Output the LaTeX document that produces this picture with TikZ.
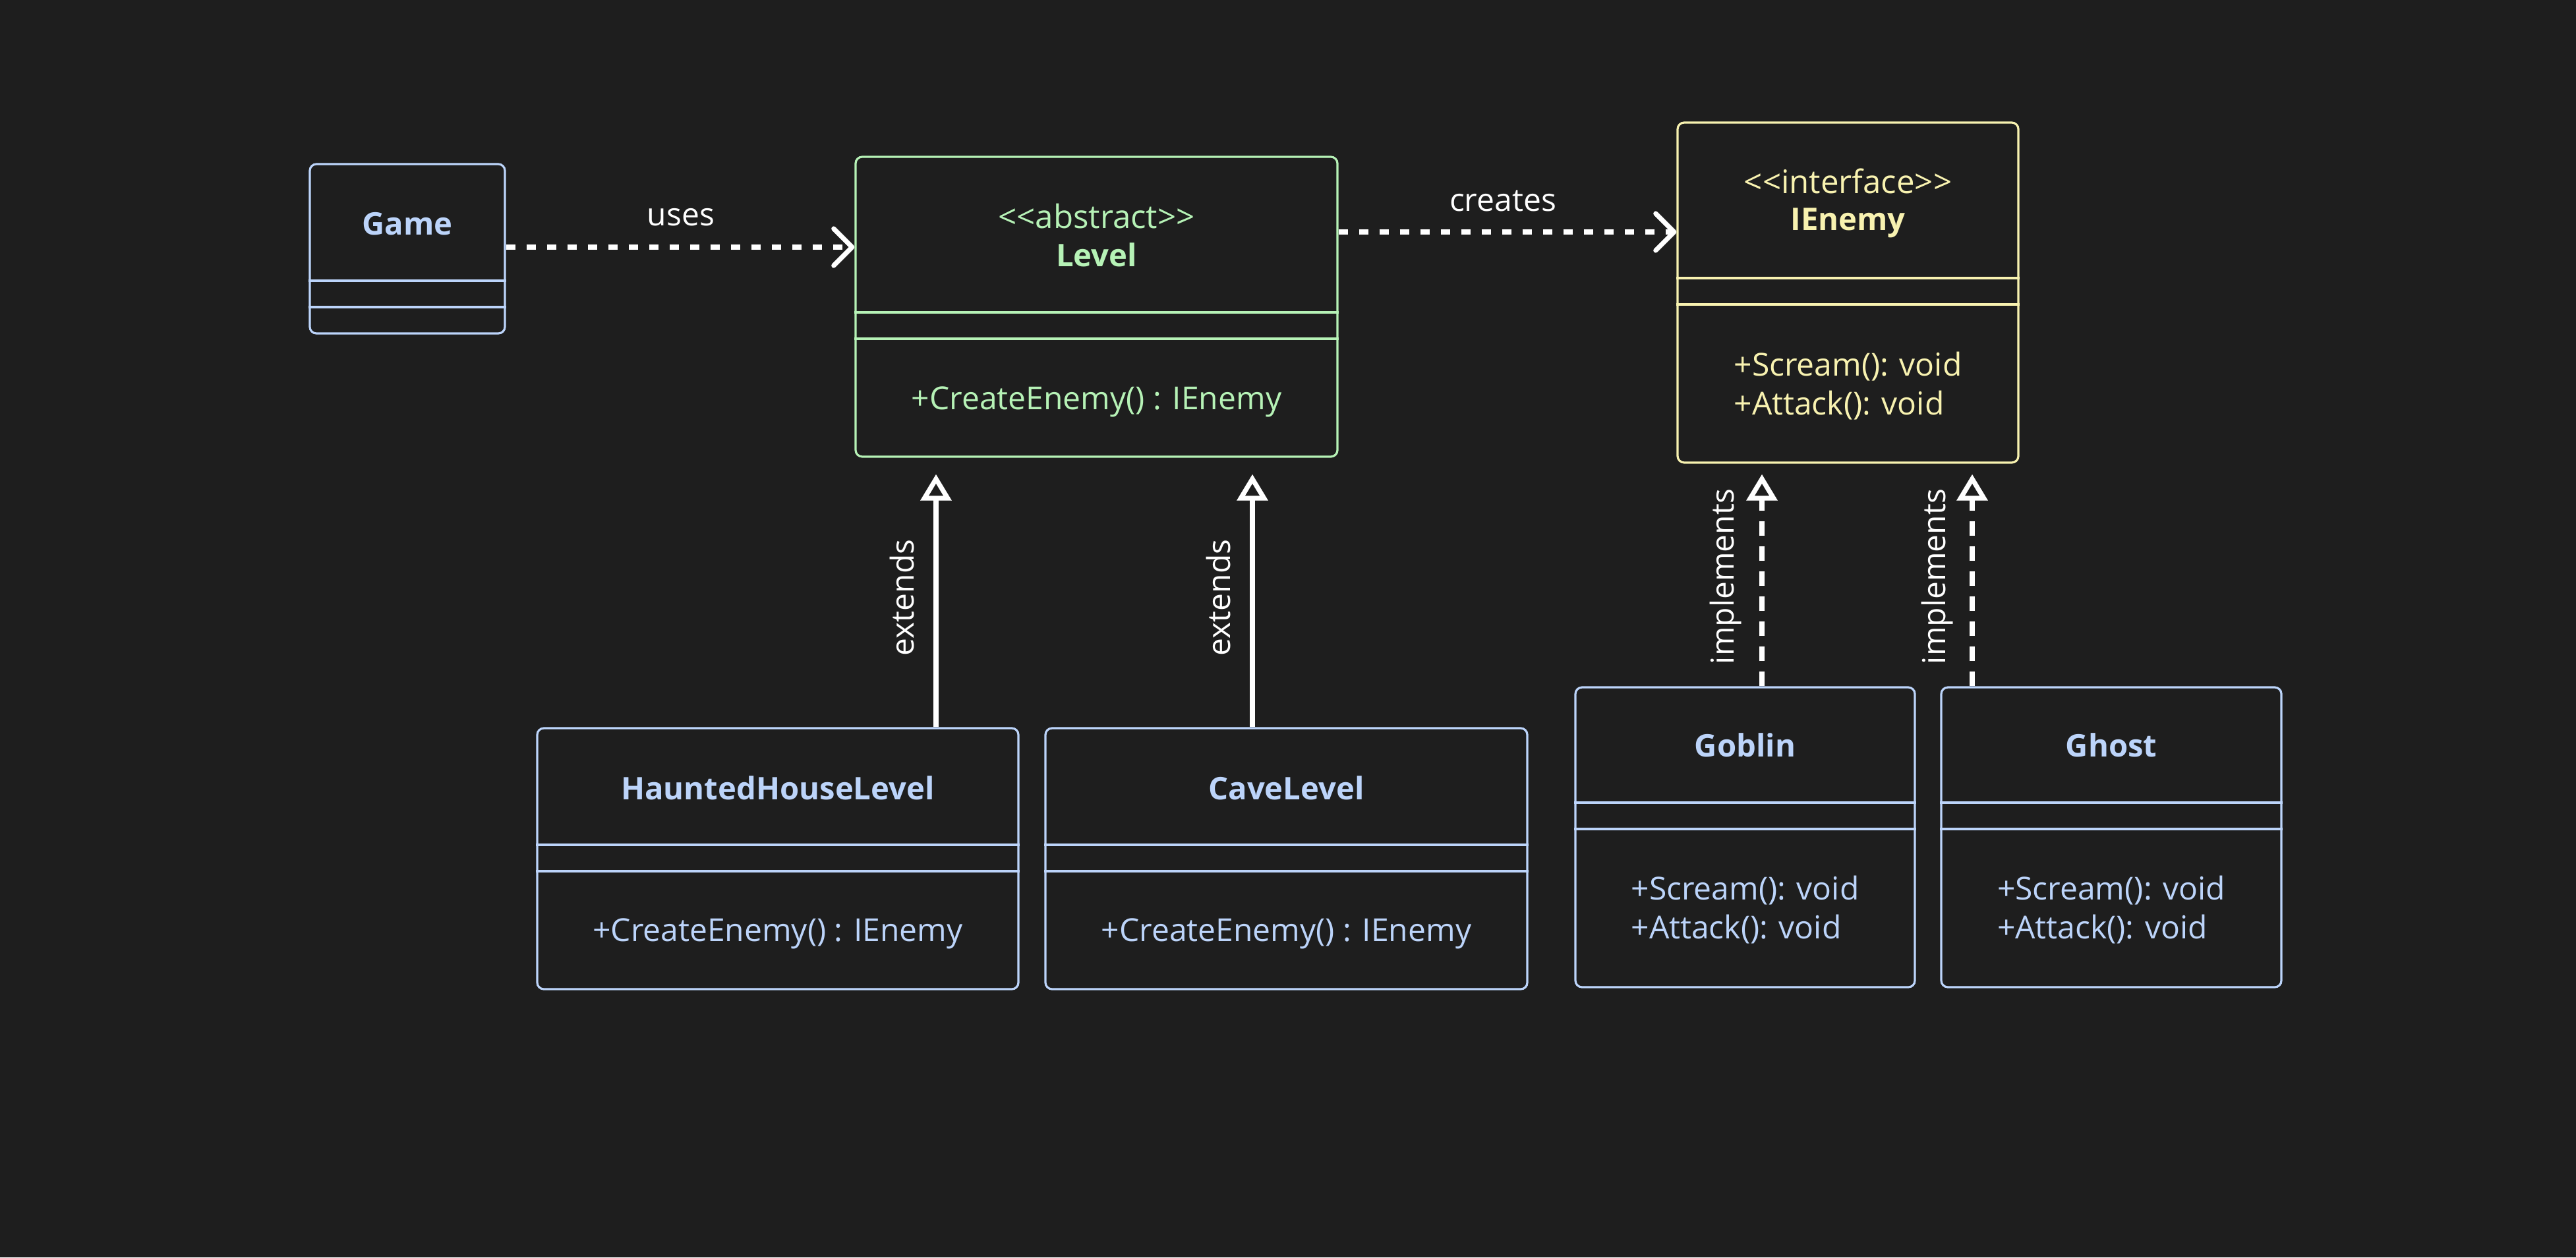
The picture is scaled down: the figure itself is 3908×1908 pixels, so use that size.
\documentclass[tikz,border=0pt]{standalone}
\usepackage{fontspec}
\setmainfont{Open Sans}
\usetikzlibrary{arrows.meta}
\definecolor{bg}{HTML}{1E1E1E}
\definecolor{cblue}{HTML}{BCD4FA}
\definecolor{cgreen}{HTML}{B6F2B6}
\definecolor{cyellow}{HTML}{F8F2B0}
\tikzset{
  classbox/.style={draw=#1, line width=0.8pt, rounded corners=2.5pt, fill=bg, inner sep=0pt},
  divider/.style={draw=#1, line width=0.8pt},
  nametext/.style={text=#1, font=\bfseries\fontsize{11.8}{14}\selectfont, inner sep=0pt},
  plaintext/.style={text=#1, font=\fontsize{12}{14.75}\selectfont, inner sep=0pt},
  sttext/.style={text=#1, font=\fontsize{12.3}{14.75}\selectfont, inner sep=0pt},
  methods/.style={text=#1, font=\fontsize{12}{14.75}\selectfont, inner sep=0pt, align=left},
  lbl/.style={text=white, font=\fontsize{12}{13}\selectfont, inner sep=0pt},
  depend/.style={draw=white, line width=1.8pt, dash pattern=on 3.5pt off 4.25pt,
    -{Straight Barb[length=7pt,width=14pt,round]}},
  extendsarrow/.style={draw=white, line width=1.8pt, -{Triangle[open,length=10pt,width=11.5pt]}},
  implarrow/.style={draw=white, line width=1.8pt, dash pattern=on 5.5pt off 4pt,
    -{Triangle[open,length=10pt,width=11.5pt]}},
}
\begin{document}
\begin{tikzpicture}[x=0.25pt,y=-0.25pt]
\path[fill=bg] (0,0) rectangle (3908,1908);
\useasboundingbox (0,0) rectangle (3908,1908);

% Game
\node[classbox=cblue, minimum width=74pt, minimum height=64.25pt] (game) at (618,377.5) {};
\draw[divider=cblue] (game.west |- 0,426) -- (game.east |- 0,426);
\draw[divider=cblue] (game.west |- 0,466) -- (game.east |- 0,466);
\node[nametext=cblue] (gamename) at (618,340) {Game};

% Level
\node[classbox=cgreen, minimum width=182.75pt, minimum height=113.75pt] (level) at (1663.5,465.5) {};
\draw[divider=cgreen] (level.west |- 0,474) -- (level.east |- 0,474);
\draw[divider=cgreen] (level.west |- 0,514) -- (level.east |- 0,514);
\node[sttext=cgreen] (levelst) at (1663.5,328) {<{}<abstract>{}>};
\node[nametext=cgreen] (levelname) at (1663.5,387) {Level};
\node[plaintext=cgreen] (levelm) at (1663.5,610) {+CreateEnemy() : IEnemy};

% IEnemy
\node[classbox=cyellow, minimum width=129.25pt, minimum height=129pt] (ienemy) at (2803.5,444) {};
\draw[divider=cyellow] (ienemy.west |- 0,422) -- (ienemy.east |- 0,422);
\draw[divider=cyellow] (ienemy.west |- 0,462) -- (ienemy.east |- 0,462);
\node[sttext=cyellow] (ienemyst) at (2803.5,275) {<{}<interface>{}>};
\node[nametext=cyellow] (ienemyname) at (2803.5,338) {IEnemy};
\node[methods=cyellow] (ienemym) at (2803.5,585.5) {+Scream(): void\\+Attack(): void};

% HauntedHouseLevel
\node[classbox=cblue, minimum width=182.5pt, minimum height=99pt] (hhl) at (1180,1303) {};
\draw[divider=cblue] (hhl.west |- 0,1282) -- (hhl.east |- 0,1282);
\draw[divider=cblue] (hhl.west |- 0,1322) -- (hhl.east |- 0,1322);
\node[nametext=cblue] (hhlname) at (1180,1196) {HauntedHouseLevel};
\node[plaintext=cblue] (hhlm) at (1180,1417) {+CreateEnemy() : IEnemy};

% CaveLevel
\node[classbox=cblue, minimum width=182.75pt, minimum height=99pt] (cave) at (1951.5,1303) {};
\draw[divider=cblue] (cave.west |- 0,1282) -- (cave.east |- 0,1282);
\draw[divider=cblue] (cave.west |- 0,1322) -- (cave.east |- 0,1322);
\node[nametext=cblue] (cavename) at (1951.5,1196) {CaveLevel};
\node[plaintext=cblue] (cavem) at (1951.5,1417) {+CreateEnemy() : IEnemy};

% Goblin
\node[classbox=cblue, minimum width=128.75pt, minimum height=113.75pt] (goblin) at (2647.5,1270.5) {};
\draw[divider=cblue] (goblin.west |- 0,1218) -- (goblin.east |- 0,1218);
\draw[divider=cblue] (goblin.west |- 0,1258) -- (goblin.east |- 0,1258);
\node[nametext=cblue] (goblinname) at (2647.5,1131) {Goblin};
\node[methods=cblue] (goblinm) at (2647.5,1381) {+Scream(): void\\+Attack(): void};

% Ghost
\node[classbox=cblue, minimum width=129pt, minimum height=113.75pt] (ghost) at (3203,1270.5) {};
\draw[divider=cblue] (ghost.west |- 0,1218) -- (ghost.east |- 0,1218);
\draw[divider=cblue] (ghost.west |- 0,1258) -- (ghost.east |- 0,1258);
\node[nametext=cblue] (ghostname) at (3203,1131) {Ghost};
\node[methods=cblue] (ghostm) at (3203,1381) {+Scream(): void\\+Attack(): void};

% connectors
\coordinate (usesy) at (0,375);
\coordinate (createsy) at (0,352);
\coordinate (ex1) at (1420,0);
\coordinate (ex2) at (1900,0);
\coordinate (im1) at (2673,0);
\coordinate (im2) at (2992,0);

\draw[depend] (game.east |- usesy) -- (level.west |- usesy);
\node[lbl] (useslbl) at (1033,330) {uses};

\draw[depend] (level.east |- createsy) -- (ienemy.west |- createsy);
\node[lbl] (createslbl) at (2280,305) {creates};

\draw[extendsarrow, shorten >=6.25pt] (hhl.north -| ex1) -- (level.south -| ex1);
\draw[extendsarrow, shorten >=6.25pt] (cave.north -| ex2) -- (level.south -| ex2);
\node[lbl, rotate=90] (ext1) at (1368,907) {extends};
\node[lbl, rotate=90] (ext2) at (1848,907) {extends};

\draw[implarrow, shorten >=4pt] (goblin.north -| im1) -- (ienemy.south -| im1);
\draw[implarrow, shorten >=4pt] (ghost.north -| im2) -- (ienemy.south -| im2);
\node[lbl, rotate=90] (imp1) at (2618,875) {implements};
\node[lbl, rotate=90] (imp2) at (2939,875) {implements};
\end{tikzpicture}
\end{document}
